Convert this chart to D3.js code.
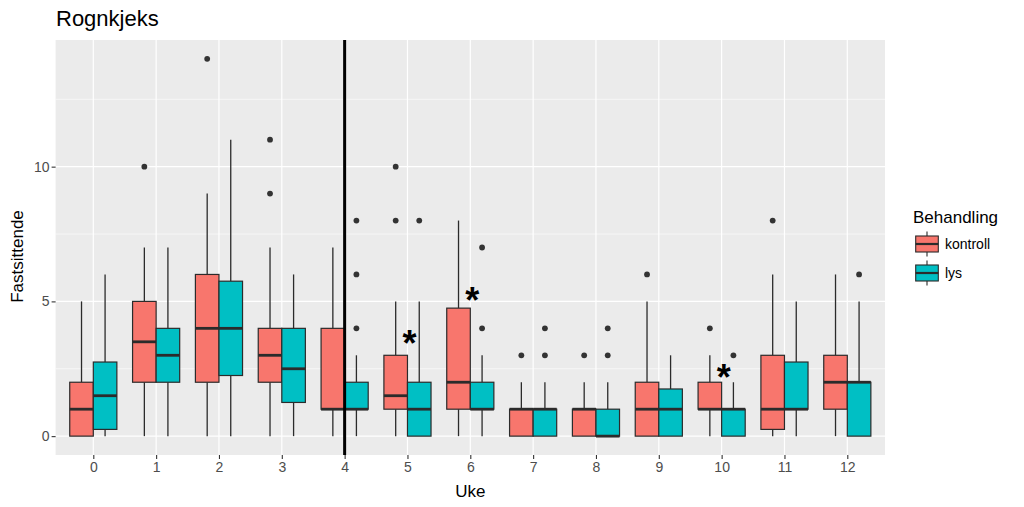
<!DOCTYPE html>
<html>
<head>
<meta charset="utf-8">
<script src="https://cdn.jsdelivr.net/npm/d3@7"></script>
<style>
  html, body { margin: 0; padding: 0; background: #fff; }
  svg { display: block; font-family: "Liberation Sans", Arial, sans-serif; }
</style>
</head>
<body>
<svg id="chart" width="1024" height="507"></svg>
<script>
// ---- data ----
const weeks = [0,1,2,3,4,5,6,7,8,9,10,11,12];
const groups = ["kontroll", "lys"];
const groupColors = ["#F8766D", "#00BFC4"];
// [lower whisker, Q1, median, Q3, upper whisker] per week
const kontrollStats = [
  [0,0,1,2,5],[0,2,3.5,5,7],[0,2,4,6,9],[0,2,3,4,7],[0,1,1,4,7],
  [0,1,1.5,3,5],[0,1,2,4.75,8],[0,0,1,1,2],[0,0,1,1,2],[0,0,1,2,5],
  [0,1,1,2,3],[0,0.25,1,3,6],[0,1,2,3,6]
];
const kontrollOutliers = [[],[10],[14],[9,11],[],[8,10],[],[3],[3],[6],[4],[8],[]];
const lysStats = [
  [0,0.25,1.5,2.75,6],[0,2,3,4,7],[0,2.25,4,5.75,11],[0,1.25,2.5,4,6],[0,1,1,2,3],
  [0,0,1,2,5],[0,1,1,2,3],[0,0,1,1,2],[0,0,0,1,2],[0,0,1,1.75,3],
  [0,0,1,1,2],[0,1,1,2.75,5],[0,0,2,2,5]
];
const lysOutliers = [[],[],[],[],[4,6,8],[8],[4,7],[3,4],[3,4],[],[3],[],[6]];
const yTicks = [0,5,10];
const yMinor = [2.5,7.5,12.5];
const starWeeks = [5,6,10];
const starValues = [3.7,5.3,2.45];
const markerWeek = 4;
const titleText = "Rognkjeks";
const xTitle = "Uke";
const yTitle = "Fastsittende";
const legendTitle = "Behandling";

// ---- layout ----
const svg = d3.select("#chart");
const P = {left: 55.6, right: 885, top: 40, bottom: 455};

const x = d3.scalePoint().domain(weeks).range([P.left, P.right]).padding(0.6);
const y = d3.scaleLinear().domain([-0.7, 14.7]).range([P.bottom, P.top]);
const step = x.step();
const dodge = d3.scaleBand().domain(groups).range([-0.375*step, 0.375*step]).padding(0);
const bw = dodge.bandwidth();

// panel
svg.append("rect").attr("x", P.left).attr("y", P.top)
  .attr("width", P.right - P.left).attr("height", P.bottom - P.top).attr("fill", "#EBEBEB");

// grid
const grid = svg.append("g");
yMinor.forEach(v => grid.append("line").attr("x1", P.left).attr("x2", P.right)
  .attr("y1", y(v)).attr("y2", y(v)).attr("stroke", "#fff").attr("stroke-width", 0.6));
yTicks.forEach(v => grid.append("line").attr("x1", P.left).attr("x2", P.right)
  .attr("y1", y(v)).attr("y2", y(v)).attr("stroke", "#fff").attr("stroke-width", 1.2));
weeks.forEach(w => grid.append("line").attr("x1", x(w)).attr("x2", x(w))
  .attr("y1", P.top).attr("y2", P.bottom).attr("stroke", "#fff").attr("stroke-width", 1.2));

// boxes
const series = [
  {name: "kontroll", color: groupColors[0], stats: kontrollStats, out: kontrollOutliers},
  {name: "lys", color: groupColors[1], stats: lysStats, out: lysOutliers}
];
const outline = "#2b2b2b";
series.forEach(s => {
  const g = svg.append("g");
  weeks.forEach((w, i) => {
    const [lo, q1, med, q3, hi] = s.stats[i];
    const x0 = x(w) + dodge(s.name);
    const xc = x0 + bw / 2;
    g.append("line").attr("x1", xc).attr("x2", xc).attr("y1", y(q3)).attr("y2", y(hi))
      .attr("stroke", outline).attr("stroke-width", 1.3);
    g.append("line").attr("x1", xc).attr("x2", xc).attr("y1", y(q1)).attr("y2", y(lo))
      .attr("stroke", outline).attr("stroke-width", 1.3);
    g.append("rect").attr("x", x0).attr("y", y(q3)).attr("width", bw)
      .attr("height", Math.max(0, y(q1) - y(q3)))
      .attr("fill", s.color).attr("stroke", outline).attr("stroke-width", 1.2);
    g.append("line").attr("x1", x0).attr("x2", x0 + bw).attr("y1", y(med)).attr("y2", y(med))
      .attr("stroke", outline).attr("stroke-width", 2.8);
    s.out[i].forEach(o => g.append("circle").attr("cx", xc).attr("cy", y(o)).attr("r", 2.9)
      .attr("fill", "#333333"));
  });
});

// vertical marker line
svg.append("line").attr("x1", x(markerWeek)).attr("x2", x(markerWeek))
  .attr("y1", P.top).attr("y2", P.bottom).attr("stroke", "#000").attr("stroke-width", 3);

// asterisks
starWeeks.forEach((w, i) => {
  svg.append("text").attr("x", x(w) + 2).attr("y", y(starValues[i]) + 20)
    .attr("text-anchor", "middle").attr("font-size", 36).attr("font-weight", "bold")
    .attr("fill", "#000").text("*");
});

// axes
const yAxis = svg.append("g").attr("transform", `translate(${P.left},0)`)
  .call(d3.axisLeft(y).tickValues(yTicks).tickSize(4).tickPadding(2));
const xAxis = svg.append("g").attr("transform", `translate(0,${P.bottom})`)
  .call(d3.axisBottom(x).tickSize(4).tickPadding(3));
[yAxis, xAxis].forEach(a => {
  a.attr("font-size", 14);
  a.select(".domain").remove();
  a.selectAll(".tick line").attr("stroke", "#333").attr("stroke-width", 1.1);
  a.selectAll(".tick text").attr("fill", "#4D4D4D").attr("font-size", 14)
    .attr("font-family", "Liberation Sans, Arial, sans-serif");
});

// titles
svg.append("text").attr("x", 56).attr("y", 26).attr("font-size", 22).attr("fill", "#000").text(titleText);
svg.append("text").attr("x", (P.left + P.right) / 2).attr("y", 497).attr("text-anchor", "middle")
  .attr("font-size", 17).attr("fill", "#000").text(xTitle);
svg.append("text").attr("transform", `translate(23,${(P.top + P.bottom) / 2 + 9}) rotate(-90)`)
  .attr("text-anchor", "middle").attr("font-size", 17).attr("fill", "#000").text(yTitle);

// legend
const lg = svg.append("g");
lg.append("text").attr("x", 913).attr("y", 223).attr("font-size", 17).attr("fill", "#000").text(legendTitle);
groups.forEach((gname, i) => {
  const cy = 244 + i * 29;
  const kx = 915.7, kw = 22.6;
  lg.append("line").attr("x1", kx + kw/2).attr("x2", kx + kw/2).attr("y1", cy - 12.5).attr("y2", cy + 12.5)
    .attr("stroke", outline).attr("stroke-width", 1.1);
  lg.append("rect").attr("x", kx).attr("y", cy - 8).attr("width", kw).attr("height", 16)
    .attr("fill", groupColors[i]).attr("stroke", outline).attr("stroke-width", 1.1);
  lg.append("line").attr("x1", kx).attr("x2", kx + kw).attr("y1", cy).attr("y2", cy)
    .attr("stroke", outline).attr("stroke-width", 2.2);
  lg.append("text").attr("x", 945).attr("y", cy + 5).attr("font-size", 14).attr("fill", "#000").text(gname);
});
</script>
</body>
</html>
